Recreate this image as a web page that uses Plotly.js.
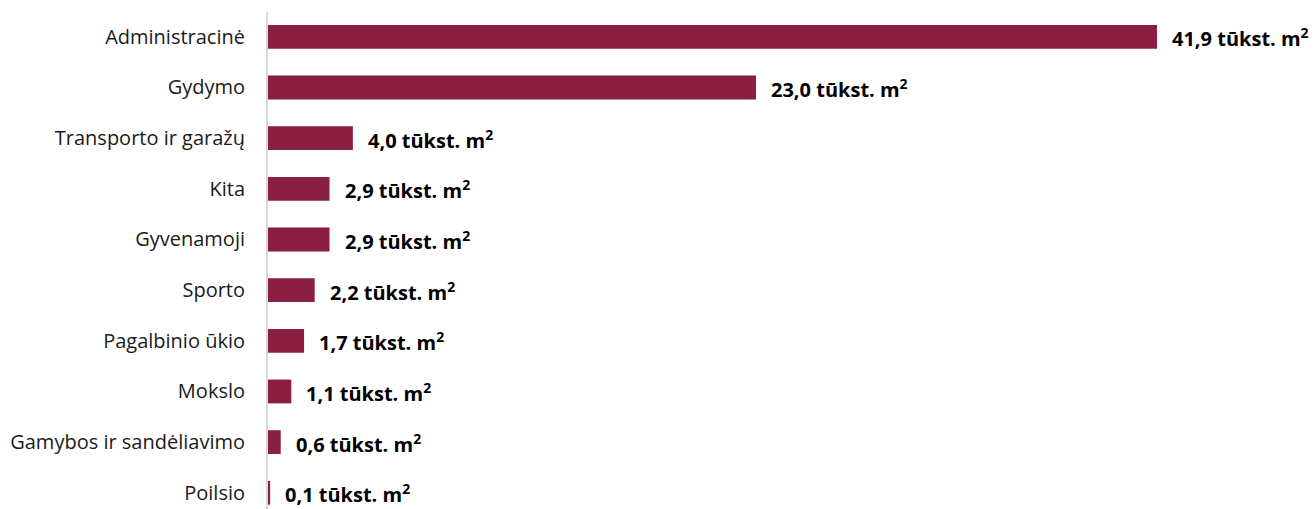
<!DOCTYPE html>
<html>
<head>
<meta charset="utf-8">
<script src="https://cdn.plot.ly/plotly-3.0.1.min.js"></script>
<style>html,body{margin:0;padding:0;background:#fff;}#chart{width:1314px;height:509px;}</style>
</head>
<body>
<div id="chart"></div>
<script>
const categories = ["Administracinė","Gydymo","Transporto ir garažų","Kita","Gyvenamoji","Sporto","Pagalbinio ūkio","Mokslo","Gamybos ir sandėliavimo","Poilsio"];
const values = [41.9, 23.0, 4.0, 2.9, 2.9, 2.2, 1.7, 1.1, 0.6, 0.1];
const unitLabel = " tūkst. m<sup>2</sup>";

const fmt = v => v.toFixed(1).replace('.', ',');

const trace = {
  type: 'bar',
  orientation: 'h',
  y: categories,
  x: values,
  marker: {color: '#8B1F42'},
  width: 0.47,
  hoverinfo: 'none'
};

const annotations = categories.map((c, i) => ({
  x: values[i], y: c, xref: 'x', yref: 'y',
  text: fmt(values[i]) + unitLabel,
  showarrow: false, xanchor: 'left', yanchor: 'middle', xshift: 13, yshift: -1,
  font: {family: 'Open Sans, sans-serif', size: 20, color: '#000', weight: 'bold'}
}));

const layout = {
  width: 1314, height: 509,
  margin: {l: 268, r: 0, t: 12, b: 0, pad: 0},
  paper_bgcolor: '#fff', plot_bgcolor: '#fff',
  showlegend: false,
  bargap: 0.53,
  xaxis: {range: [0, 49.3], showgrid: false, zeroline: false, showline: false, showticklabels: false, ticks: ''},
  yaxis: {
    type: 'category',
    range: [9.32, -0.49],
    showgrid: false, zeroline: false,
    showline: true, linecolor: '#d9d9d9', linewidth: 2,
    ticks: '', ticklabelstandoff: 17,
    tickfont: {family: 'Open Sans, sans-serif', size: 20, color: '#1a1a1a'}
  },
  annotations: annotations
};

Plotly.newPlot('chart', [trace], layout, {staticPlot: true, displayModeBar: false});
</script>
</body>
</html>
